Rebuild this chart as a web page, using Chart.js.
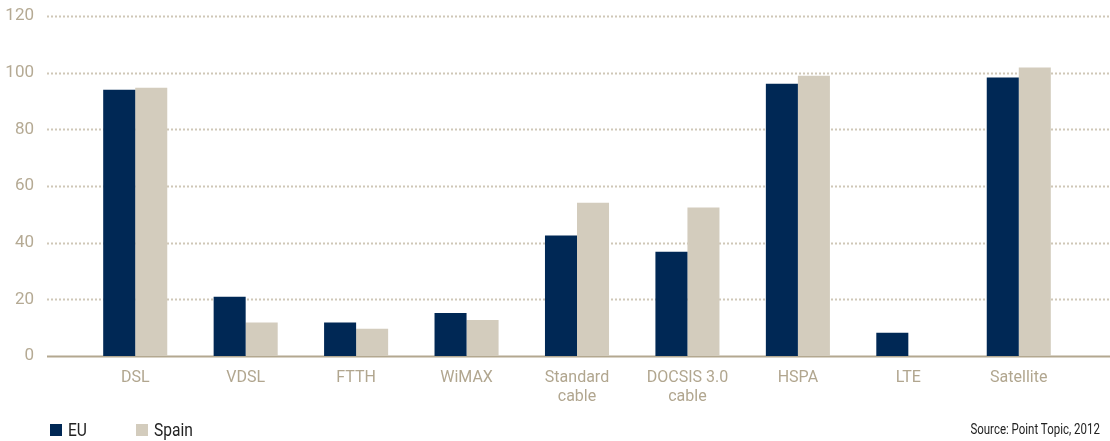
<!DOCTYPE html>
<html>
<head>
<meta charset="utf-8">
<script src="https://cdn.jsdelivr.net/npm/chart.js@4"></script>
<style>
  body { margin: 0; background: #fff; }
  #wrap { position: relative; width: 1110px; height: 441px; }
  #legend { position: absolute; left: 50px; top: 418px; font-family: Roboto, sans-serif; font-size: 19px; color: #222; }
  #legend span.item { position: absolute; white-space: nowrap; top: 0; }
  #legend i { display: inline-block; width: 12px; height: 12px; margin-right: 6px; vertical-align: 0px; }
  #legend b { font-weight: normal; display: inline-block; transform: scaleX(0.82); transform-origin: left center; }
  #source { position: absolute; right: 10px; top: 421px; font-family: Roboto, sans-serif; font-size: 14px; color: #222; transform: scaleX(0.82); transform-origin: right center; }
</style>
</head>
<body>
<div id="wrap">
  <canvas id="chart" width="1110" height="441"></canvas>
  <div id="legend"></div>
  <div id="source">Source: Point Topic, 2012</div>
</div>
<script>
const categories = ['DSL', 'VDSL', 'FTTH', 'WiMAX', ['Standard', 'cable'], ['DOCSIS 3.0', 'cable'], 'HSPA', 'LTE', 'Satellite'];
const euValues = [94.0, 20.9, 11.8, 15.2, 42.5, 36.8, 96.1, 8.2, 98.3];
const spainValues = [94.7, 11.8, 9.6, 12.7, 54.1, 52.4, 98.9, null, 101.8];
const yTicks = [0, 20, 40, 60, 80, 100, 120];
const seriesNames = ['EU', 'Spain'];
const seriesColors = ['#002855', '#d3ccbd'];

document.addEventListener('DOMContentLoaded', () => {
    const ctx = document.getElementById('chart').getContext('2d');
    const font = "Roboto, sans-serif";

    // gridlines run wider than the category area, so draw them here
    const gridPlugin = {
        id: 'wideGrid',
        beforeDatasetsDraw(chart) {
            const y = chart.scales.y;
            const c = chart.ctx;
            c.save();
            yTicks.forEach(v => {
                const py = Math.round(y.getPixelForValue(v)) + 0.5;
                c.beginPath();
                if (v === 0) {
                    c.setLineDash([]);
                    c.strokeStyle = '#b3a890';
                    c.lineWidth = 2;
                } else {
                    c.setLineDash([2, 2]);
                    c.strokeStyle = '#cfc7b7';
                    c.lineWidth = 2;
                }
                c.moveTo(47, py);
                c.lineTo(chart.width, py);
                c.stroke();
            });
            c.restore();
        }
    };

    new Chart(ctx, {
        type: 'bar',
        data: {
            labels: categories,
            datasets: [
                { label: seriesNames[0], data: euValues, backgroundColor: seriesColors[0] },
                { label: seriesNames[1], data: spainValues, backgroundColor: seriesColors[1] }
            ]
        },
        options: {
            responsive: false,
            animation: false,
            layout: { padding: { top: 16, right: 36, bottom: 35, left: 0 } },
            categoryPercentage: 0.58,
            barPercentage: 1.0,
            plugins: { legend: { display: false }, tooltip: { enabled: false } },
            scales: {
                x: {
                    grid: { display: false },
                    border: { display: false },
                    ticks: { color: '#b1a68f', font: { family: font, size: 16 }, padding: 4, maxRotation: 0, autoSkip: false },
                    afterFit(scale) {
                        scale.height = 50;
                        scale.paddingLeft = 0;
                        scale.paddingRight = 0;
                    }
                },
                y: {
                    min: 0,
                    max: 120,
                    afterBuildTicks(scale) { scale.ticks = yTicks.map(v => ({ value: v })); },
                    grid: { display: false, drawTicks: false },
                    border: { display: false },
                    ticks: { color: '#b5aa94', font: { family: font, size: 17 }, padding: 46 },
                    afterFit(scale) {
                        scale.width = 80;
                        scale.paddingTop = 0;
                        scale.paddingBottom = 0;
                    }
                }
            }
        },
        plugins: [gridPlugin]
    });

    const legend = document.getElementById('legend');
    const offsets = [0, 86];
    seriesNames.forEach((name, i) => {
        const item = document.createElement('span');
        item.className = 'item';
        item.style.left = offsets[i] + 'px';
        item.innerHTML = '<i style="background:' + seriesColors[i] + '"></i><b>' + name + '</b>';
        legend.appendChild(item);
    });
});
</script>
</body>
</html>
